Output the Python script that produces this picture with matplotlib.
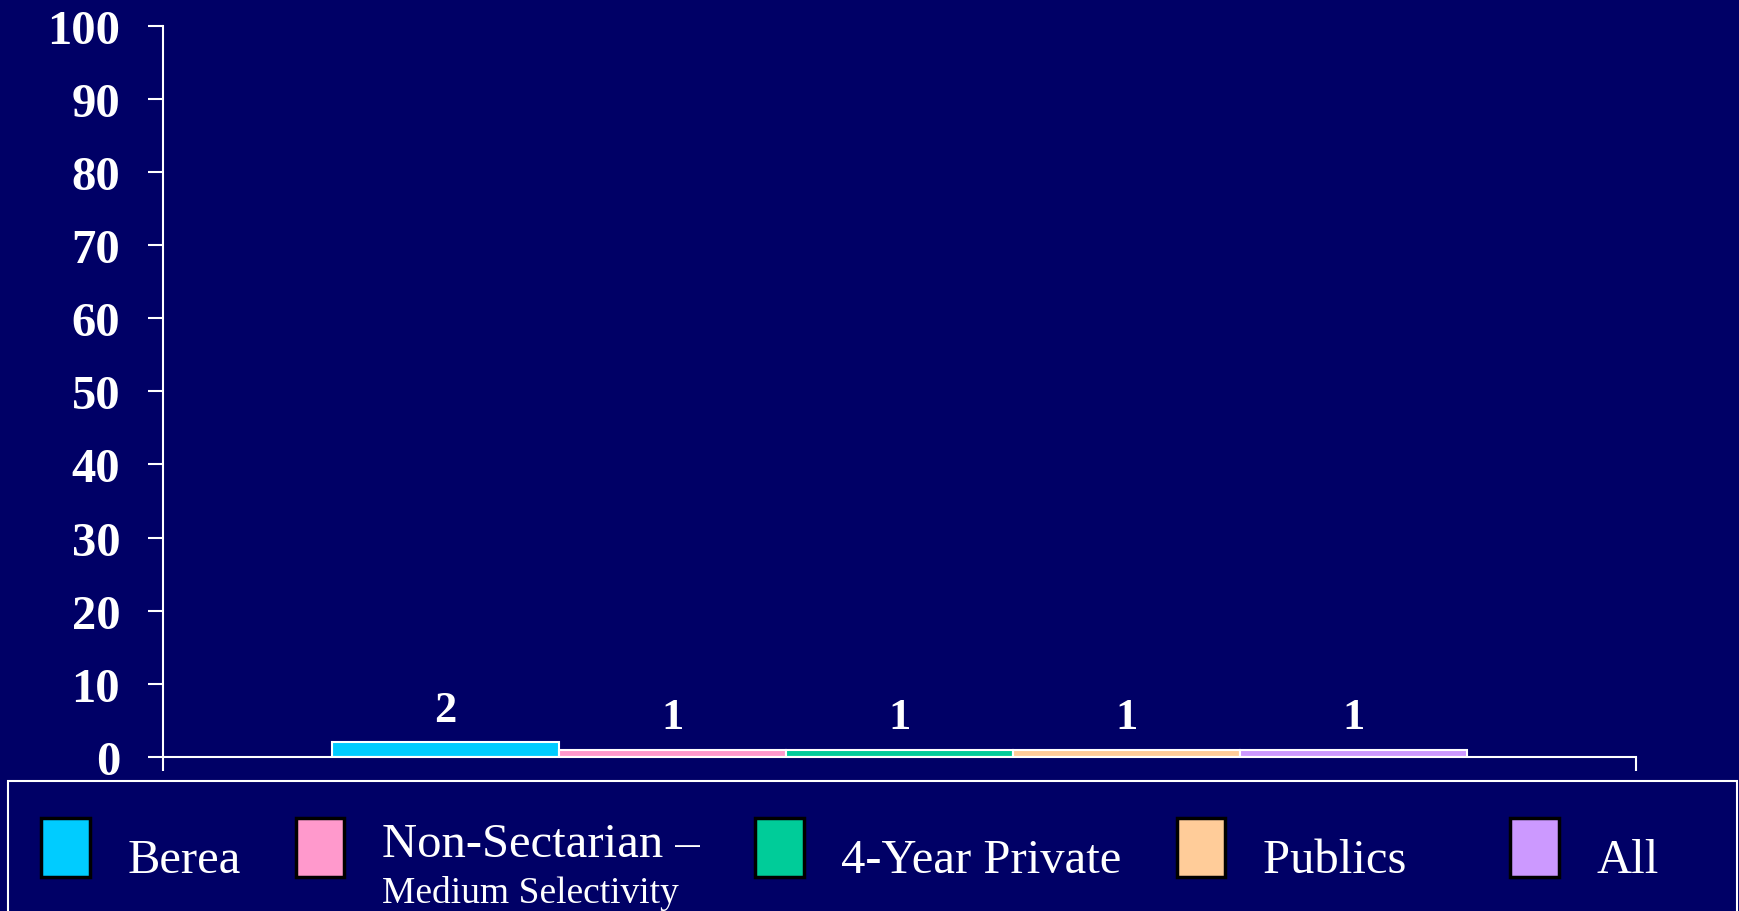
import matplotlib
matplotlib.use("Agg")
import matplotlib.pyplot as plt
from matplotlib.patches import Patch, Rectangle
from matplotlib.transforms import Affine2D

# --- data ---
groups = ["Berea", "Non-Sectarian \u2013", "4-Year Private", "Publics", "All"]
subtitle = "Medium Selectivity"
values = [2, 1, 1, 1, 1]
colors = ["#00CCFF", "#FF99CC", "#00CC99", "#FFCC99", "#CC99FF"]
yticks = [0, 10, 20, 30, 40, 50, 60, 70, 80, 90, 100]

bg = "#000066"
W, H = 1740, 912

plt.rcParams["font.family"] = ["Liberation Serif", "DejaVu Serif"]

fig = plt.figure(figsize=(W / 100, H / 100), dpi=100, facecolor=bg)
ax = fig.add_axes([163 / W, 1 - 758 / H, (1636 - 163) / W, (758 - 26.6) / H])
ax.set_facecolor(bg)

x = list(range(len(values)))
bars = ax.bar(x, values, width=1.0, color=colors, edgecolor="white", linewidth=1.5)
ax.bar_label(bars, labels=[str(v) for v in values], padding=9,
             color="white", fontsize=32, fontweight="bold")

ax.set_ylim(0, 100)
ax.set_xlim(-1.245, len(values) - 1 + 1.745 - 0.5)
ax.set_yticks(yticks)
ax.set_yticklabels([str(t) for t in yticks], fontsize=35, fontweight="bold", color="white")
ax.set_xticks(ax.get_xlim())
ax.set_xticklabels([])
ax.tick_params(axis="y", colors="white", length=10.8, width=1.5, pad=20)
ax.tick_params(axis="x", colors="white", length=10, width=1.5)
for s in ["top", "right"]:
    ax.spines[s].set_visible(False)
for s in ["left", "bottom"]:
    ax.spines[s].set_color("white")
    ax.spines[s].set_linewidth(1.5)

# legend (extra trailing space after "Publics" mimics the uneven slot widths)
leg_labels = list(groups)
leg_labels[3] = leg_labels[3] + "    "
handles = [Patch(facecolor=c, edgecolor="black", linewidth=2.5) for c in colors]
leg = fig.legend(handles, leg_labels, ncol=5, loc="upper left",
                 bbox_to_anchor=(41 / W, 1 - 819 / H), borderaxespad=0, borderpad=0,
                 frameon=False, fontsize=35, handlelength=1.0, handleheight=1.49,
                 handletextpad=0.78, columnspacing=1.13, labelcolor="white")
fig.add_artist(Rectangle((8 / W, -0.1), (1737 - 8) / W, (912 - 782) / H + 0.1,
                         transform=fig.transFigure, fill=False,
                         edgecolor="white", linewidth=1.5))

fig.canvas.draw()
texts = leg.get_texts()
shifts = [-8, 8, -8, -8, -8]
for t, dy in zip(texts, shifts):
    t.set_transform(t.get_transform() + Affine2D().translate(0, dy))
fig.canvas.draw()
lt = texts[1]
ext = lt.get_window_extent()
ann = fig.text(ext.x0 / W, (ext.y0 + 10 - 46) / H, subtitle, fontsize=27, color="white")

fig.savefig("out.png", dpi=100, facecolor=bg)
